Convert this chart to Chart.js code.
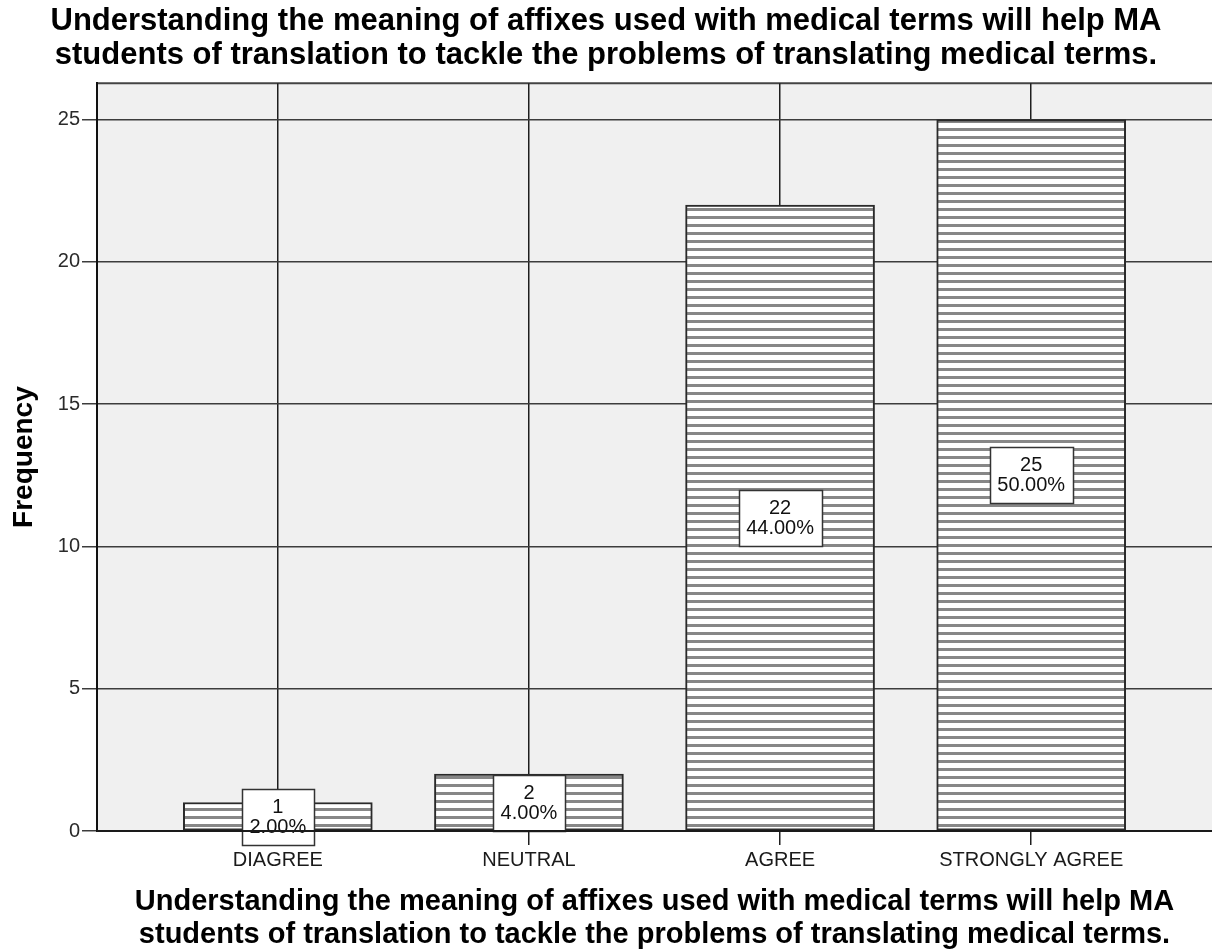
<!DOCTYPE html>
<html>
<head>
<meta charset="utf-8">
<script src="https://cdn.jsdelivr.net/npm/chart.js@4.4.1/dist/chart.umd.min.js"></script>
<style>
  html, body { margin: 0; padding: 0; background: #ffffff; }
  #wrap { width: 1212px; height: 951px; }
</style>
</head>
<body>
<div id="wrap"><canvas id="chart" width="1212" height="951"></canvas></div>
<script>
// Response categories and counts
const categories = ['DIAGREE', 'NEUTRAL', 'AGREE', 'STRONGLY AGREE'];
const frequencies = [1, 2, 22, 25];
const percentLabels = ['2.00%', '4.00%', '44.00%', '50.00%'];
const yTicks = [0, 5, 10, 15, 20, 25];
const titleLines = [
  'Understanding the meaning of affixes used with medical terms will help MA',
  'students of translation to tackle the problems of translating medical terms.'
];

const FONT = '"Liberation Sans", Arial, Helvetica, sans-serif';

const canvas = document.getElementById('chart');
const ctx = canvas.getContext('2d');

// Horizontal stripe fill for the bars
function stripePattern() {
  const tile = document.createElement('canvas');
  tile.width = 8; tile.height = 8;
  const t = tile.getContext('2d');
  t.fillStyle = '#ffffff';
  t.fillRect(0, 0, 8, 8);
  t.fillStyle = '#878787';
  t.fillRect(0, 0, 8, 3);
  return ctx.createPattern(tile, 'repeat');
}

// Grey plot background and top frame line
const plotFrame = {
  id: 'plotFrame',
  beforeDraw(chart) {
    const { ctx, chartArea: a } = chart;
    ctx.save();
    ctx.fillStyle = '#f0f0f0';
    ctx.fillRect(a.left, a.top, a.right - a.left, a.bottom - a.top);
    ctx.strokeStyle = '#444444';
    ctx.lineWidth = 2;
    ctx.beginPath();
    ctx.moveTo(a.left, a.top);
    ctx.lineTo(a.right, a.top);
    ctx.stroke();
    ctx.restore();
  }
};

// Count / percent boxes centred on each bar
const valueBoxes = {
  id: 'valueBoxes',
  afterDatasetsDraw(chart) {
    const { ctx, chartArea: a } = chart;
    const meta = chart.getDatasetMeta(0);
    const yScale = chart.scales.y;
    ctx.save();
    ctx.font = '20px ' + FONT;
    meta.data.forEach((bar, i) => {
      const lines = [String(frequencies[i]), percentLabels[i]];
      const w = Math.round(Math.max(...lines.map(s => ctx.measureText(s).width)) + 15);
      const h = 56;
      const cx = bar.x;
      const cy = yScale.getPixelForValue(frequencies[i] / 2);
      const left = Math.round(cx - w / 2);
      const top = Math.round(cy - h / 2);
      ctx.fillStyle = '#ffffff';
      ctx.fillRect(left, top, w, h);
      ctx.strokeStyle = '#333333';
      ctx.lineWidth = 1.5;
      ctx.strokeRect(left + 0.5, top + 0.5, w, h);
      ctx.fillStyle = '#111111';
      ctx.textAlign = 'center';
      ctx.textBaseline = 'alphabetic';
      ctx.fillText(lines[0], cx, top + 24);
      ctx.fillText(lines[1], cx, top + 44);
    });
    // baseline axis runs over the boxes
    const y0 = Math.round(yScale.getPixelForValue(0));
    ctx.strokeStyle = '#1a1a1a';
    ctx.lineWidth = 2;
    ctx.beginPath();
    ctx.moveTo(a.left, y0);
    ctx.lineTo(a.right, y0);
    ctx.stroke();
    ctx.restore();
  }
};

new Chart(ctx, {
  type: 'bar',
  data: {
    datasets: [{
      data: categories.map((c, i) => ({ x: i, y: frequencies[i] })),
      backgroundColor: stripePattern(),
      borderColor: '#2a2a2a',
      borderWidth: 2,
      borderSkipped: false,
      barThickness: 189
    }]
  },
  options: {
    responsive: false,
    devicePixelRatio: 1,
    animation: false,
    layout: { padding: 0 },
    plugins: {
      legend: { display: false },
      tooltip: { enabled: false },
      title: {
        display: true,
        text: titleLines,
        fullSize: true,
        color: '#000000',
        font: { family: FONT, size: 31, weight: 'bold', lineHeight: 1.1 },
        padding: { top: 4, bottom: 11 }
      }
    },
    scales: {
      x: {
        type: 'linear',
        offset: false,
        min: -0.72,
        max: 3.72,
        afterBuildTicks: (scale) => { scale.ticks = categories.map((c, i) => ({ value: i })); },
        afterFit: (scale) => { scale.height = 120; },
        ticks: {
          callback: (v) => categories[v] ?? '',
          color: '#1a1a1a',
          font: { family: FONT, size: 20 },
          padding: 3,
          maxRotation: 0,
          autoSkip: false
        },
        grid: {
          offset: false,
          color: '#1e1e1e',
          lineWidth: 1.5,
          tickLength: 14,
          drawTicks: true
        },
        border: { display: true, color: '#1a1a1a', width: 2 },
        title: {
          display: true,
          text: titleLines,
          color: '#000000',
          font: { family: FONT, size: 29, weight: 'bold', lineHeight: 1.12 },
          padding: { top: 0, bottom: 0 }
        }
      },
      y: {
        type: 'linear',
        min: 0,
        max: 26.28,
        afterBuildTicks: (scale) => { scale.ticks = yTicks.map(v => ({ value: v })); },
        afterFit: (scale) => { scale.width = 97; },
        ticks: {
          color: '#2a2a2a',
          font: { family: FONT, size: 20 },
          padding: 2
        },
        grid: {
          color: '#3c3c3c',
          lineWidth: 1.5,
          tickLength: 15,
          drawTicks: true
        },
        border: { display: true, color: '#111111', width: 2 },
        title: {
          display: true,
          text: 'Frequency',
          color: '#000000',
          font: { family: FONT, size: 28, weight: 'bold', lineHeight: 1.2 },
          padding: { top: 7, bottom: 0 }
        }
      }
    }
  },
  plugins: [plotFrame, valueBoxes]
});
</script>
</body>
</html>
